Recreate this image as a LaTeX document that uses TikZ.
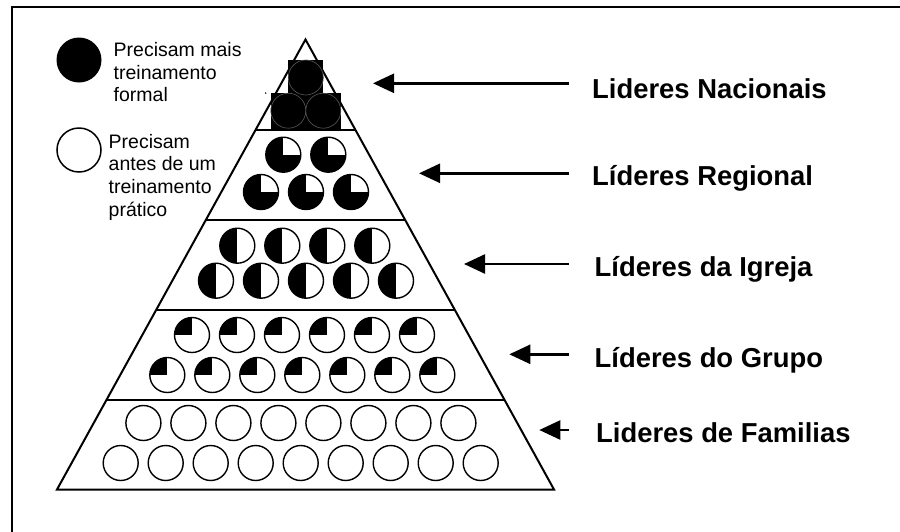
\documentclass[tikz,border=0pt]{standalone}
\usepackage{fontspec}
\setmainfont{Liberation Sans}
\usetikzlibrary{arrows.meta,calc}

\begin{document}
\begin{tikzpicture}[x=1pt,y=-1pt,
  frameline/.style={line width=2.2pt},
  edge/.style={line width=2pt},
  token/.style={circle, draw=black, line width=1.4pt, minimum size=35pt, inner sep=0pt, fill=white},
  quartertok/.style={token, path picture={\fill[black] (path picture bounding box.center) rectangle (path picture bounding box.north west);}},
  halftok/.style={token, path picture={\fill[black] (path picture bounding box.south west) rectangle (path picture bounding box.north);}},
  threetok/.style={token, path picture={\fill[black] (path picture bounding box.south west) rectangle (path picture bounding box.north east);
      \fill[white] (path picture bounding box.center) rectangle (path picture bounding box.north east);}},
  fulltok/.style={circle, draw=black!65, line width=0.6pt, minimum size=35pt, inner sep=0pt, fill=black},
  pointer/.style={line width=2.5pt, -{Triangle[length=21pt,width=19pt]}},
  legendtext/.style={font=\fontsize{19.5}{22.6}\selectfont, align=left, inner sep=0pt, anchor=base west},
  tierlabel/.style={font=\fontsize{27.4}{30}\selectfont\bfseries, inner sep=0pt, anchor=base west},
]
\useasboundingbox (0,0) rectangle (900,531);
\clip (0,0) rectangle (900,531);
\fill[white] (0,0) rectangle (900,531);

% outer frame (only top and left edges fall inside the page)
\draw[frameline] (11.7,545) -- (11.7,6.7) -- (910,6.7);

% legend (base anchor sits on the last line of each block)
\node[circle, fill=black, minimum size=45pt, inner sep=0pt] (legfull) at (79,60) {};
\node[circle, draw=black, line width=1.5pt, minimum size=44pt, inner sep=0pt] (legempty) at (79,150) {};
\node[legendtext] (legtxtA) at (113.5,101.9) {Precisam mais\\treinamento\\formal};
\node[legendtext] (legtxtB) at (108.5,216.1) {Precisam\\antes de um\\treinamento\\prático};

% pyramid outline and tier dividers
\coordinate (apex) at (305.5,39.5);
\coordinate (bl) at (57,489.5);
\coordinate (br) at (554,489.5);
\draw[edge] (apex) -- (br) -- (bl) -- cycle;
\foreach \f in {0.2,0.4,0.6,0.8}
  \draw[edge] ($(apex)!\f!(bl)$) -- ($(apex)!\f!(br)$);

% tier 1: national leaders
\fill[black] (288.3,60) rectangle (323.3,95);
\fill[black] (271,93) rectangle (340.7,128.5);
\node[fulltok] (nat-a) at (305.8,77.5) {};
\node[fulltok] (nat-b) at (288.3,110.7) {};
\node[fulltok] (nat-c) at (323.3,110.7) {};
\fill[black] (265.7,93) circle (0.8);

% tier 2: regional leaders
\foreach \i in {0,1}
  \node[threetok] (reg-a\i) at ({283.3+45*\i},154.7) {};
\foreach \i in {0,1,2}
  \node[threetok] (reg-b\i) at ({261+45*\i},192) {};

% tier 3: church leaders
\foreach \i in {0,...,3}
  \node[halftok] (igr-a\i) at ({237.3+45*\i},245.7) {};
\foreach \i in {0,...,4}
  \node[halftok] (igr-b\i) at ({216+45*\i},280.7) {};

% tier 4: group leaders
\foreach \i in {0,...,5}
  \node[quartertok] (grp-a\i) at ({192+45*\i},335) {};
\foreach \i in {0,...,6}
  \node[quartertok] (grp-b\i) at ({167.3+45*\i},375) {};

% tier 5: family leaders
\foreach \i in {0,...,7}
  \node[token] (fam-a\i) at ({143.4+45*\i},423) {};
\foreach \i in {0,...,8}
  \node[token] (fam-b\i) at ({120.7+45*\i},463) {};

% tier labels
\node[tierlabel] (lblN) at (592,98.3) {Lideres Nacionais};
\node[tierlabel] (lblR) at (592,185) {Líderes Regional};
\node[tierlabel] (lblI) at (594.5,276.7) {Líderes da Igreja};
\node[tierlabel] (lblG) at (594.5,367) {Líderes do Grupo};
\node[tierlabel] (lblF) at (596,442.7) {Lideres de Familias};

% pointers
\coordinate (tipN) at (373,83.3);   \coordinate (tailN) at (569,83.3);
\coordinate (tipR) at (419,173.3);  \coordinate (tailR) at (569,173.3);
\coordinate (tipI) at (464,264);    \coordinate (tailI) at (569,264);
\coordinate (tipG) at (509.3,354.3);\coordinate (tailG) at (569,354.3);
\coordinate (tipF) at (539.3,430);  \coordinate (tailF) at (569,430);
\foreach \k in {N,R,I,G,F}
  \draw[pointer] (tail\k) -- (tip\k);
\end{tikzpicture}
\end{document}
